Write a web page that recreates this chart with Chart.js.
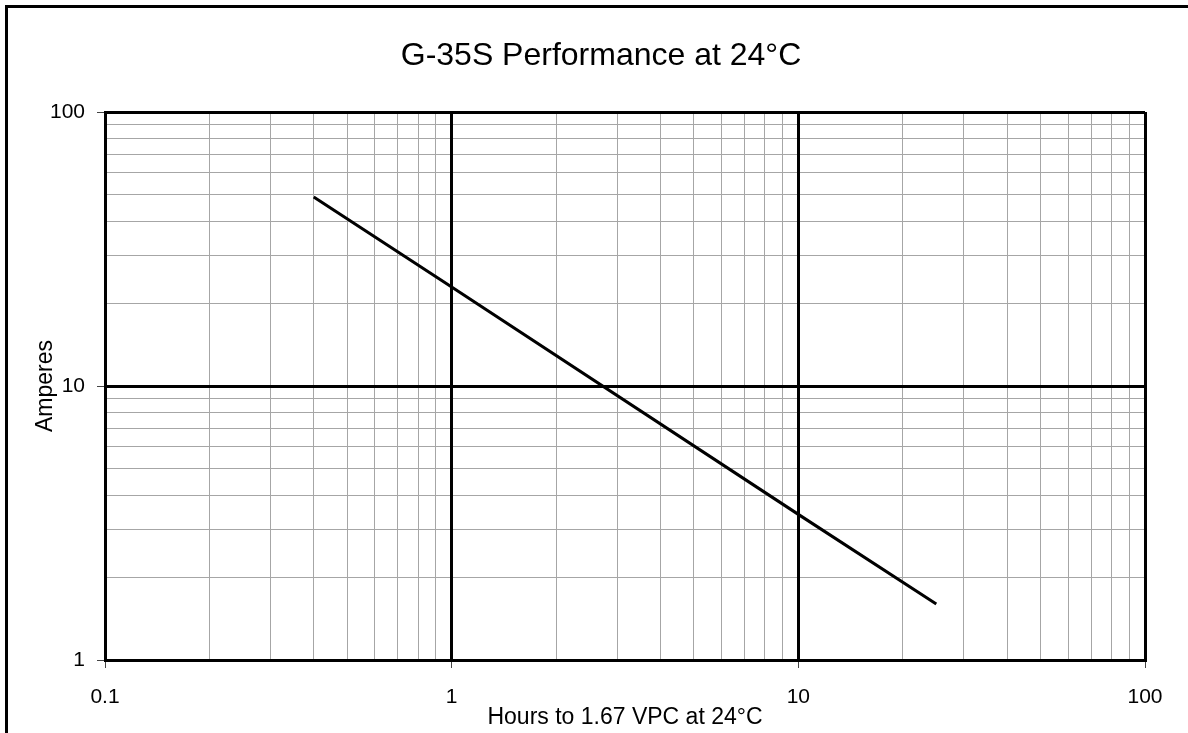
<!DOCTYPE html>
<html>
<head>
<meta charset="utf-8">
<title>G-35S Performance at 24°C</title>
<script src="https://cdn.jsdelivr.net/npm/chart.js@4.4.1/dist/chart.umd.min.js"></script>
<style>
  html, body { margin: 0; padding: 0; background: #fff; overflow: hidden; }
  #frame { position: absolute; left: 5px; top: 5px; width: 1250px; height: 800px; border: 3px solid #000; }
  #wrap { position: absolute; left: 0; top: 0; width: 1188px; height: 733px; }
</style>
</head>
<body>
<div id="frame"></div>
<div id="wrap"><canvas id="chart" width="1188" height="733"></canvas></div>
<script>
// discharge curve
var hours = [0.4, 1, 10, 25];
var amperes = [49, 23, 3.4, 1.6];

// tick labels / grid positions
var xMajor = [0.1, 1, 10, 100];
var yMajor = [1, 10, 100];
var mantissa = [2, 3, 4, 5, 6, 7, 8, 9];
var xDecades = [0.1, 1, 10];
var yDecades = [1, 10];

function minorTicks(decades) {
    var out = [];
    decades.forEach(function (d) {
        mantissa.forEach(function (m) { out.push({ value: Math.round(d * m * 1000) / 1000 }); });
    });
    return out;
}
function majorTicks(list) {
    return list.map(function (v) { return { value: v, major: true }; });
}

var font = "'Liberation Sans', Arial, sans-serif";

var points = hours.map(function (h, i) { return { x: h, y: amperes[i] }; });

var ctx = document.getElementById('chart').getContext('2d');
var myChart = new Chart(ctx, {
    type: 'scatter',
    data: {
        datasets: [{
            label: 'Amperes',
            data: points,
            showLine: true,
            borderColor: '#000',
            borderWidth: 3,
            pointRadius: 0,
            fill: false,
            xAxisID: 'x',
            yAxisID: 'y'
        }]
    },
    options: {
        responsive: false,
        animation: false,
        devicePixelRatio: 1,
        layout: { padding: { left: 14, right: 0, top: 0, bottom: 0 } },
        plugins: {
            legend: { display: false },
            tooltip: { enabled: false },
            title: {
                display: true,
                text: 'G-35S Performance at 24°C',
                color: '#000',
                font: { family: font, size: 32, weight: 'normal' },
                padding: { top: 37, bottom: 36.6 }
            }
        },
        scales: {
            x: {
                type: 'logarithmic',
                position: 'bottom',
                min: 0.1,
                max: 100,
                afterBuildTicks: function (axis) { axis.ticks = majorTicks(xMajor); },
                afterFit: function (axis) { axis.height = 73; },
                grid: { color: '#000', lineWidth: 3, tickColor: '#444', tickWidth: 1, tickLength: 8, z: -1 },
                border: { display: true, color: '#000', width: 3 },
                ticks: {
                    autoSkip: false,
                    maxRotation: 0,
                    padding: 17,
                    color: '#000',
                    font: { family: font, size: 21 },
                    callback: function (v) { return String(v); }
                },
                title: {
                    display: true,
                    text: 'Hours to 1.67 VPC at 24°C',
                    color: '#000',
                    font: { family: font, size: 23 },
                    padding: { top: 0, bottom: 2 }
                }
            },
            xMinor: {
                type: 'logarithmic',
                position: 'bottom',
                min: 0.1,
                max: 100,
                afterBuildTicks: function (axis) { axis.ticks = minorTicks(xDecades); },
                afterFit: function (axis) { axis.height = 0; },
                grid: { color: '#a6a6a6', lineWidth: 1, drawTicks: false, z: -2 },
                border: { display: false },
                ticks: { display: false }
            },
            y: {
                type: 'logarithmic',
                position: 'left',
                min: 1,
                max: 100,
                afterBuildTicks: function (axis) { axis.ticks = majorTicks(yMajor); },
                afterFit: function (axis) { axis.width = 91; },
                grid: { color: '#000', lineWidth: 3, tickColor: '#444', tickWidth: 1, tickLength: 8, z: -1 },
                border: { display: true, color: '#000', width: 3 },
                ticks: {
                    autoSkip: false,
                    padding: 12,
                    color: '#000',
                    font: { family: font, size: 21 },
                    callback: function (v) { return String(v); }
                },
                title: {
                    display: true,
                    text: 'Amperes',
                    color: '#000',
                    font: { family: font, size: 23 },
                    padding: { top: 17.4, bottom: 0 }
                }
            },
            yMinor: {
                type: 'logarithmic',
                position: 'right',
                min: 1,
                max: 100,
                afterBuildTicks: function (axis) { axis.ticks = minorTicks(yDecades); },
                afterFit: function (axis) { axis.width = 43; },
                grid: { color: '#a6a6a6', lineWidth: 1, drawTicks: false, z: -2 },
                border: { display: false },
                ticks: { display: false }
            }
        }
    }
});
</script>
</body>
</html>
